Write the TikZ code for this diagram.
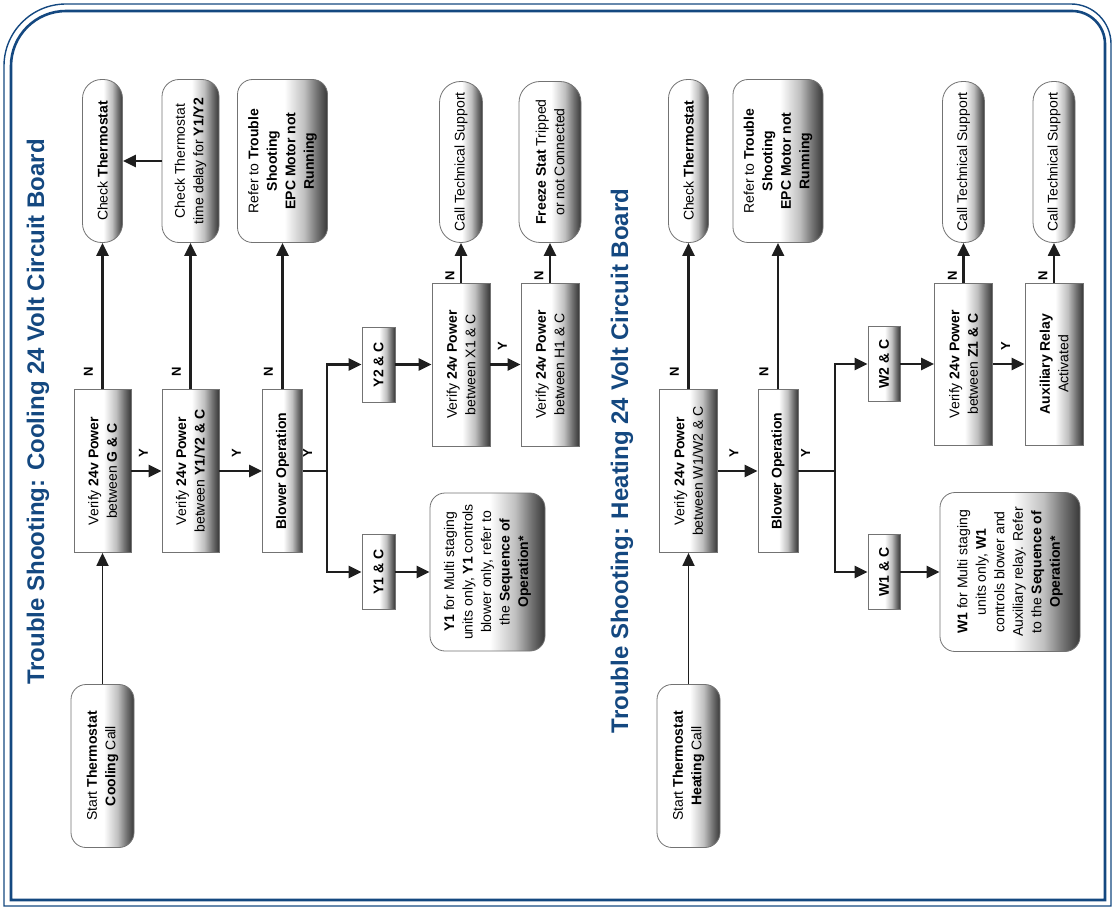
\documentclass[tikz,border=0pt]{standalone}
\usepackage{fontspec}
\setmainfont{Liberation Sans}
\usepackage{xcolor}
\definecolor{Col1}{RGB}{20,72,128}
\definecolor{Col2}{RGB}{30,30,30}
\usepackage{tikz}
\usetikzlibrary{arrows.meta}
\pgfdeclarehorizontalshading{BoxShade}{100bp}{color(0bp)=(white); color(51bp)=(white);
  color(62bp)=(black!25); color(69bp)=(black!55); color(75bp)=(black!78); color(100bp)=(black!78)}
\tikzstyle{Box}=[rotate=90,draw=black!55,line width=0.8pt,shading=BoxShade,
  align=center,inner sep=2pt,font=\fontsize{14}{18.5}\selectfont]
\tikzstyle{Round}=[Box,rounded corners=15pt]
\tikzstyle{Pill}=[Box,rounded corners=19pt]
\tikzstyle{Edge}=[draw=Col2,line width=2.3pt]
\tikzstyle{Arrow}=[Edge,-{Triangle[length=13pt,width=12pt]}]
\tikzstyle{Label}=[rotate=90,inner sep=0pt,font=\bfseries\fontsize{13}{13}\selectfont]
\tikzstyle{Title}=[rotate=90,text=Col1,font=\bfseries\fontsize{24}{24}\selectfont]
\tikzstyle{Frame}=[draw=Col1]

\begin{document}
\begin{tikzpicture}[x=1pt,y=-1pt]
  \useasboundingbox (0,0) rectangle (1115,909);
  % frame
  \draw[Frame,line width=1.4pt] (4,906) [rounded corners=62pt] -- (4,4)
    [rounded corners=40pt] -- (1111,4) [sharp corners] -- (1111,906) -- cycle;
  \draw[Frame,line width=2.6pt] (11,900) [rounded corners=55pt] -- (11,11)
    [rounded corners=33pt] -- (1105,11) [sharp corners] -- (1105,900) -- cycle;
  % cooling
  \node[Title](tc)at(38,412){Trouble Shooting: Cooling 24 Volt Circuit Board};
  \node[Pill,minimum width=163pt,minimum height=40pt](ct1)at(102.5,161){Check \textbf{Thermostat}};
  \node[Round,rounded corners=17pt,minimum width=163pt,minimum height=57pt](td)at(190.5,161){Check Thermostat\\time delay for \textbf{Y1/Y2}};
  \node[Round,minimum width=163pt,minimum height=90pt](ref1)at(282.5,161){Refer to \textbf{Trouble}\\\textbf{Shooting}\\\textbf{EPC Motor not}\\\textbf{Running}};
  \node[Box,minimum width=163pt,minimum height=57pt](vgc)at(102.5,471){Verify \textbf{24v Power}\\between \textbf{G \& C}};
  \node[Box,minimum width=163pt,minimum height=57pt](vy)at(190.5,471){Verify \textbf{24v Power}\\between \textbf{Y1/Y2 \& C}};
  \node[Box,minimum width=163pt,minimum height=40pt](blw1)at(282.5,471){\textbf{Blower Operation}};
  \node[Round,minimum width=163pt,minimum height=63pt](st1)at(102.5,766){Start \textbf{Thermostat}\\\textbf{Cooling} Call};
  \node[Box,minimum width=75pt,minimum height=33pt](y2c)at(378.5,364.5){\textbf{Y2 \& C}};
  \node[Box,minimum width=75pt,minimum height=33pt](y1c)at(378.5,572){\textbf{Y1 \& C}};
  \node[Box,minimum width=163pt,minimum height=58pt](vx1)at(461,364.5){Verify \textbf{24v Power}\\between X1 \& C};
  \node[Box,minimum width=163pt,minimum height=58pt](vh1)at(550,364.5){Verify \textbf{24v Power}\\between H1 \& C};
  \node[Pill,rounded corners=21pt,minimum width=161pt,minimum height=43pt](cts1)at(461,162){Call Technical Support};
  \node[Pill,rounded corners=21pt,minimum width=161pt,minimum height=62pt](frz)at(550,162){\textbf{Freeze Stat} Tripped\\or not Connected};
  \node[Round,minimum width=158pt,minimum height=115pt](nt1)at(487.5,572){\textbf{Y1} for Multi staging\\units only, \textbf{Y1} controls\\blower only, refer to\\the \textbf{Sequence of}\\\textbf{Operation*}};
  \coordinate(b1)at(327,471);
  \draw[Arrow,line width=1.8pt](st1.east)--(vgc.west);
  \draw[Arrow](vgc.east)--node[pos=.12,xshift=-14pt,Label]{N}(ct1.west);
  \draw[Arrow](vy.east)--node[pos=.12,xshift=-14pt,Label]{N}(td.west);
  \draw[Arrow](blw1.east)--node[pos=.12,xshift=-14pt,Label]{N}(ref1.west);
  \draw[Arrow](td.north)--(ct1.south);
  \draw[Arrow](vgc.south)--node[pos=.4,yshift=18pt,Label]{Y}(vy.north);
  \draw[Arrow](vy.south)--node[pos=.4,yshift=18pt,Label]{Y}(blw1.north);
  \draw[Edge](blw1.south)--node[pos=.2,yshift=18pt,Label]{Y}(b1);
  \draw[Arrow](b1)|-(y2c.north);
  \draw[Arrow](b1)|-(y1c.north);
  \draw[Arrow](y2c.south)--(vx1.north);
  \draw[Arrow](y1c.south)--(nt1.north);
  \draw[Arrow](vx1.east)--node[pos=.18,xshift=-11pt,Label]{N}(cts1.west);
  \draw[Arrow](vh1.east)--node[pos=.18,xshift=-11pt,Label]{N}(frz.west);
  \draw[Arrow](vx1.south)--node[pos=.4,yshift=18pt,Label]{Y}(vh1.north);
  % heating
  \node[Title](th)at(622,461){Trouble Shooting: Heating 24 Volt Circuit Board};
  \node[Pill,minimum width=163pt,minimum height=40pt](ct2)at(688.5,161){Check \textbf{Thermostat}};
  \node[Round,minimum width=163pt,minimum height=90pt](ref2)at(778,161){Refer to \textbf{Trouble}\\\textbf{Shooting}\\\textbf{EPC Motor not}\\\textbf{Running}};
  \node[Box,minimum width=163pt,minimum height=58pt](vw)at(688.5,471){Verify \textbf{24v Power}\\between W1/W2 \& C};
  \node[Box,minimum width=163pt,minimum height=40pt](blw2)at(778,471){\textbf{Blower Operation}};
  \node[Round,minimum width=163pt,minimum height=63pt](st2)at(688.5,766){Start \textbf{Thermostat}\\\textbf{Heating} Call};
  \node[Box,minimum width=75pt,minimum height=32pt](w2c)at(884,364){\textbf{W2 \& C}};
  \node[Box,minimum width=75pt,minimum height=32pt](w1c)at(884,572){\textbf{W1 \& C}};
  \node[Box,minimum width=162pt,minimum height=58pt](vz1)at(963.5,364){Verify \textbf{24v Power}\\between \textbf{Z1 \& C}};
  \node[Box,minimum width=162pt,minimum height=58pt](aux)at(1054,364){\textbf{Auxiliary Relay}\\Activated};
  \node[Pill,rounded corners=20pt,minimum width=161pt,minimum height=42pt](cts2)at(963.5,162){Call Technical Support};
  \node[Pill,rounded corners=20pt,minimum width=161pt,minimum height=42pt](cts3)at(1054,162){Call Technical Support};
  \node[Round,minimum width=159pt,minimum height=140pt](nt2)at(1010,572){\textbf{W1} for Multi staging\\units only, \textbf{W1}\\controls blower and\\Auxiliary relay. Refer\\to the \textbf{Sequence of}\\\textbf{Operation*}};
  \coordinate(b2)at(835,471);
  \draw[Arrow,line width=1.8pt](st2.east)--(vw.west);
  \draw[Arrow](vw.east)--node[pos=.12,xshift=-14pt,Label]{N}(ct2.west);
  \draw[Arrow](blw2.east)--node[pos=.12,xshift=-14pt,Label]{N}(ref2.west);
  \draw[Arrow](vw.south)--node[pos=.4,yshift=18pt,Label]{Y}(blw2.north);
  \draw[Edge](blw2.south)--node[pos=.2,yshift=18pt,Label]{Y}(b2);
  \draw[Arrow](b2)|-(w2c.north);
  \draw[Arrow](b2)|-(w1c.north);
  \draw[Arrow](w2c.south)--(vz1.north);
  \draw[Arrow](w1c.south)--(nt2.north);
  \draw[Arrow](vz1.east)--node[pos=.18,xshift=-11pt,Label]{N}(cts2.west);
  \draw[Arrow](aux.east)--node[pos=.18,xshift=-11pt,Label]{N}(cts3.west);
  \draw[Arrow](vz1.south)--node[pos=.4,yshift=18pt,Label]{Y}(aux.north);
\end{tikzpicture}
\end{document}
